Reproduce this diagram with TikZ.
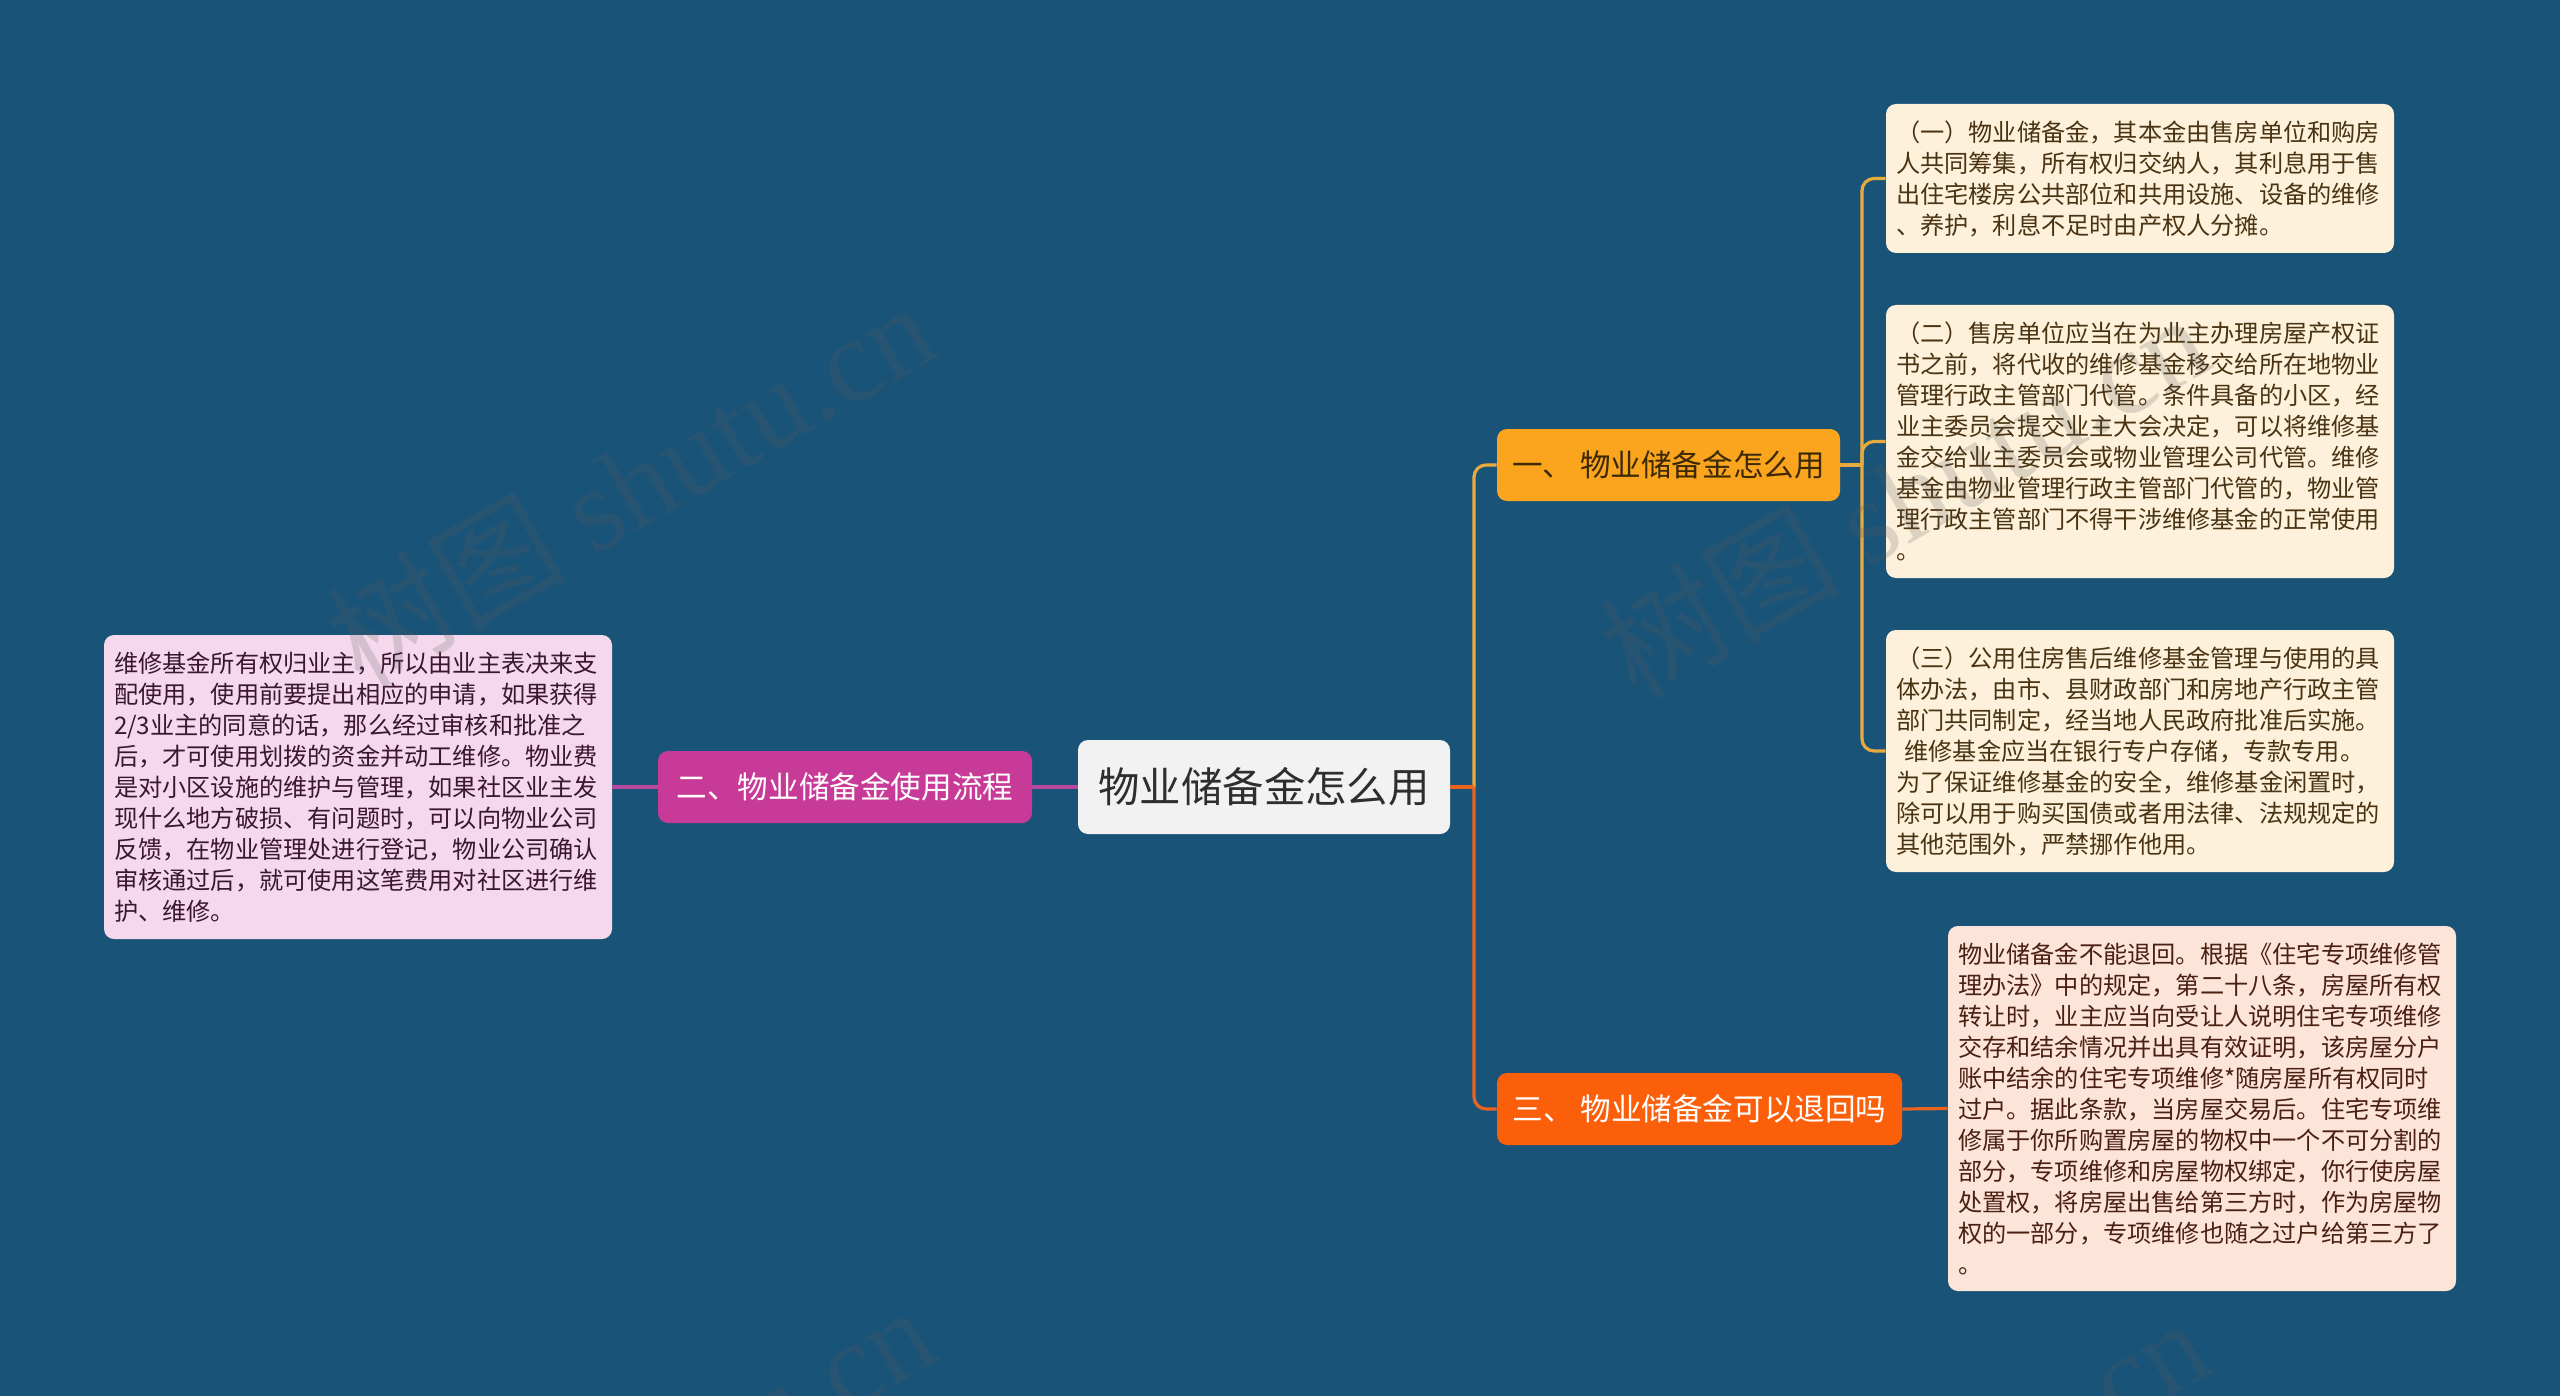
\documentclass[tikz,border=0pt]{standalone}
\usepackage{fontspec}
\setmainfont{Noto Sans CJK SC}
\newfontfamily\wmserif{Liberation Serif}
\setlength{\parindent}{0pt}
\definecolor{bg}{HTML}{1A5378}
\definecolor{rootfill}{HTML}{F2F2F2}
\definecolor{roottext}{HTML}{2E2E2E}
\definecolor{bonefill}{HTML}{FBA51E}
\definecolor{bonetext}{HTML}{3D2A05}
\definecolor{btwofill}{HTML}{C83A98}
\definecolor{bthreefill}{HTML}{FC5F0A}
\definecolor{cone}{HTML}{E8AA3C}
\definecolor{ctwo}{HTML}{B8489E}
\definecolor{cthree}{HTML}{EA6420}
\definecolor{lonefill}{HTML}{FDF1DB}
\definecolor{lonetext}{HTML}{4A3312}
\definecolor{ltwofill}{HTML}{F5D8EC}
\definecolor{ltwotext}{HTML}{3A1631}
\definecolor{lthreefill}{HTML}{FDE4D8}
\definecolor{lthreetext}{HTML}{4A2012}
\begin{document}
\begin{tikzpicture}[x=0.5pt,y=-0.5pt,
  leafbox/.style={rounded corners=5pt, inner sep=0pt, minimum width=254pt,
    text width=244pt, align=left, font=\fontsize{12.1pt}{15.5pt}\selectfont},
  rootbox/.style={fill=rootfill, text=roottext, rounded corners=5pt, inner sep=0pt,
    minimum width=186pt, minimum height=47pt, font=\fontsize{20.7pt}{24pt}\selectfont},
  branchbox/.style={rounded corners=5pt, inner sep=0pt, minimum height=36pt,
    font=\fontsize{15.3pt}{18pt}\selectfont},
  conn/.style={line width=1.6pt},
  wm/.style={text=black!65, text opacity=0.2, font=\fontsize{60pt}{64pt}\selectfont, inner sep=0pt}
]
\fill[bg] (0,0) rectangle (2560,1396);

% root and branches
\node[rootbox] (root) at (1264,787) {物业储备金怎么用};
\node[branchbox, fill=bonefill, text=bonetext, minimum width=171.5pt] (b1) at (1668.5,465) {一、 物业储备金怎么用};
\node[branchbox, fill=btwofill, text=white, minimum width=187pt] (b2) at (845,787) {二、物业储备金使用流程};
\node[branchbox, fill=bthreefill, text=white, minimum width=202.5pt] (b3) at (1699.5,1109) {三、 物业储备金可以退回吗};

% leaves
\node[leafbox, fill=lonefill, text=lonetext, minimum height=74.5pt] (l1a) at (2140,178.5) {（一）物业储备金，其本金由售房单位和购房\\人共同筹集，所有权归交纳人，其利息用于售\\出住宅楼房公共部位和共用设施、设备的维修\\、养护，利息不足时由产权人分摊。};
\node[leafbox, fill=lonefill, text=lonetext, minimum height=136.5pt] (l1b) at (2140,441.5) {（二）售房单位应当在为业主办理房屋产权证\\书之前，将代收的维修基金移交给所在地物业\\管理行政主管部门代管。条件具备的小区，经\\业主委员会提交业主大会决定，可以将维修基\\金交给业主委员会或物业管理公司代管。维修\\基金由物业管理行政主管部门代管的，物业管\\理行政主管部门不得干涉维修基金的正常使用\\。};
\node[leafbox, fill=lonefill, text=lonetext, minimum height=121pt] (l1c) at (2140,751) {（三）公用住房售后维修基金管理与使用的具\\体办法，由市、县财政部门和房地产行政主管\\部门共同制定，经当地人民政府批准后实施。\\\hspace*{0.35em}维修基金应当在银行专户存储，专款专用。\\为了保证维修基金的安全，维修基金闲置时，\\除可以用于购买国债或者用法律、法规规定的\\其他范围外，严禁挪作他用。};
\node[leafbox, fill=ltwofill, text=ltwotext, minimum height=152pt] (l2) at (358,787) {维修基金所有权归业主，所以由业主表决来支\\配使用，使用前要提出相应的申请，如果获得\\2/3业主的同意的话，那么经过审核和批准之\\后，才可使用划拨的资金并动工维修。物业费\\是对小区设施的维护与管理，如果社区业主发\\现什么地方破损、有问题时，可以向物业公司\\反馈，在物业管理处进行登记，物业公司确认\\审核通过后，就可使用这笔费用对社区进行维\\护、维修。};
\node[leafbox, fill=lthreefill, text=lthreetext, minimum height=182.5pt] (l3) at (2202,1108.5) {物业储备金不能退回。根据《住宅专项维修管\\理办法》中的规定，第二十八条，房屋所有权\\转让时，业主应当向受让人说明住宅专项维修\\交存和结余情况并出具有效证明，该房屋分户\\账中结余的住宅专项维修*随房屋所有权同时\\过户。据此条款，当房屋交易后。住宅专项维\\修属于你所购置房屋的物权中一个不可分割的\\部分，专项维修和房屋物权绑定，你行使房屋\\处置权，将房屋出售给第三方时，作为房屋物\\权的一部分，专项维修也随之过户给第三方了\\。};

% connectors
\coordinate (j0) at (1474,787);
\coordinate (j1) at (1862,465);
\draw[conn, cone, rounded corners=6pt] (j0) |- (b1.west);
\draw[conn, cthree, rounded corners=6pt] (j0) |- (b3.west);
\draw[conn, cthree] (root.east) -- (j0);
\draw[conn, ctwo] (root.west) -- (b2.east);
\draw[conn, ctwo] (b2.west) -- (l2.east);
\draw[conn, cone] (b1.east) -- (j1);
\draw[conn, cone, rounded corners=6pt] (j1) |- (l1a.west);
\draw[conn, cone, rounded corners=6pt] (j1) |- (l1b.west);
\draw[conn, cone, rounded corners=6pt] (j1) |- (l1c.west);
\draw[conn, cthree] (b3.east) -- (l3.west);

% watermarks
\begin{scope}
\clip (0,0) rectangle (2560,1396);
\node[wm, rotate=30, anchor=base west] (w1) at (362,690) {树图 {\wmserif shutu.cn}};
\node[wm, rotate=30, anchor=base west] (w2) at (1636,702) {树图 {\wmserif shutu.cn}};
\node[wm, rotate=30, anchor=base west] (w3) at (362,1694) {树图 {\wmserif shutu.cn}};
\node[wm, rotate=30, anchor=base west] (w4) at (1636,1706) {树图 {\wmserif shutu.cn}};
\end{scope}
\end{tikzpicture}
\end{document}
